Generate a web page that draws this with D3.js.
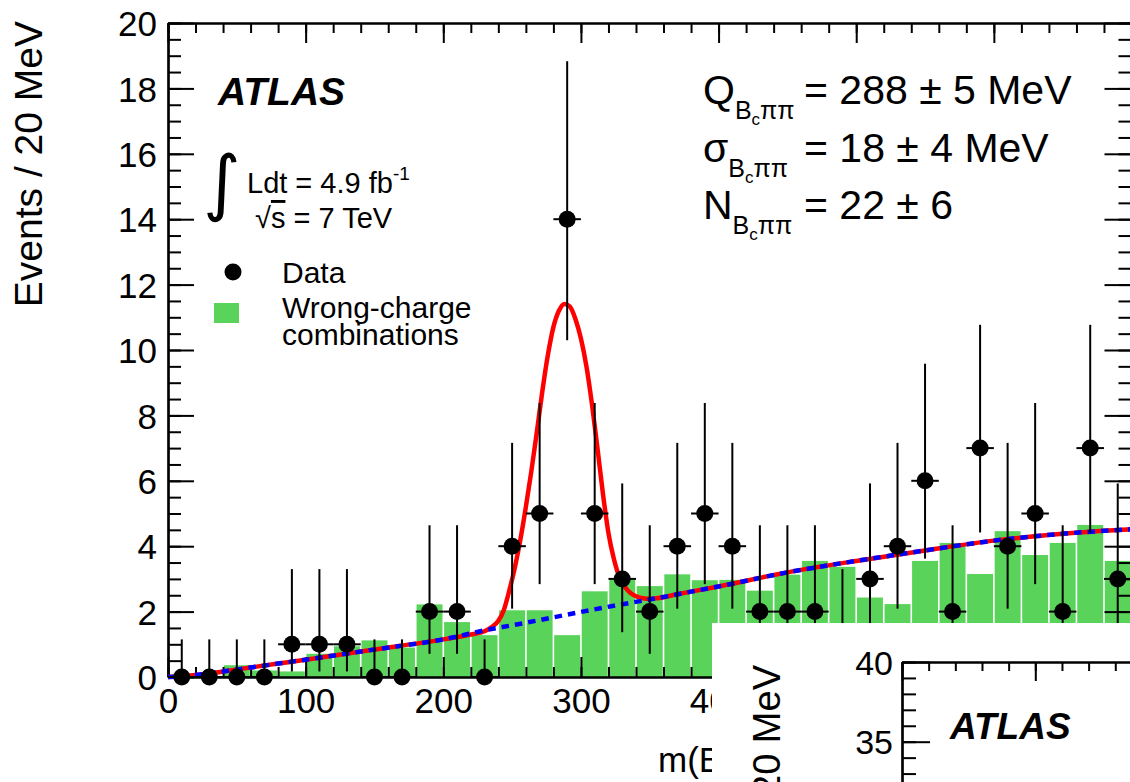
<!DOCTYPE html>
<html><head><meta charset="utf-8">
<script src="https://cdn.jsdelivr.net/npm/d3@7"></script>
<style>body{margin:0;background:#fff}svg{display:block}text{font-family:"Liberation Sans",Arial,Helvetica,sans-serif;fill:#000}</style>
</head><body>
<svg id="c" width="1130" height="782"></svg>
<script>
// ---------------- data ----------------
const binCenters = [10,30,50,70,90,110,130,150,170,190,210,230,250,270,290,310,330,350,370,390,410,430,450,470,490,510,530,550,570,590,610,630,650,670,690];
const binHalfWidth = 10;
const dataCounts = [0,0,0,0,1,1,1,0,0,2, 2,0,4,5,14,5,3,2,4,5, 4,2,2,2,1,3,4,6,2,7, 4,5,2,7,3];
const errLow  = [0,0,0,0,0.83,0.83,0.83,0,0,1.29, 1.29,0,1.91,2.16,3.7,2.16,1.63,1.29,1.91,2.16, 1.91,1.29,1.29,1.29,0.83,1.63,1.91,2.38,1.29,2.58, 1.91,2.16,1.29,2.58,1.63];
const errHigh = [1.15,1.15,1.15,1.15,2.3,2.3,2.3,1.15,1.15,2.64, 2.64,1.15,3.16,3.38,4.83,3.38,2.92,2.64,3.16,3.38, 3.16,2.64,2.64,2.64,2.3,2.92,3.16,3.58,2.64,3.77, 3.16,3.38,2.64,3.77,2.92];
const wrongCharge = [0,0,0.36,0.2,0.17,0.71,0.94,1.12,0.9,2.22, 1.68,1.28,2.04,2.04,1.28,2.62,2.98,2.78,3.14,2.96, 2.97,2.64,3.13,3.55,3.37,2.43,2.23,3.55,4.1,3.15, 4.46,3.73,4.1,4.65,3.55];

const bkgX = [0,10,20,40,60,80,100,150,200,234,250,270,300,343,350,380,400,450,500,550,600,650,700];
const bkgY = [0,0.02,0.06,0.17,0.29,0.41,0.53,0.84,1.15,1.46,1.58,1.74,1.99,2.32,2.37,2.61,2.77,3.2,3.55,3.87,4.17,4.38,4.52];

const fitX = [0,20,40,60,80,100,150,200,220,230,236,240,244,248,252,256,260,264,268,272,276,280,284,288,292,296,300,304,308,312,316,320,324,328,332,336,340,345,350,355,370,400,450,500,550,600,650,700];
const fitY = [0,0.06,0.17,0.29,0.41,0.53,0.84,1.15,1.3,1.4,1.55,1.72,2.05,2.65,3.35,4.2,5.2,6.3,7.5,8.75,9.85,10.7,11.2,11.41,11.33,10.95,10.35,9.5,8.35,7.0,5.6,4.4,3.6,3.05,2.75,2.57,2.47,2.41,2.39,2.41,2.53,2.77,3.2,3.55,3.87,4.17,4.38,4.52];

const xMajorTicks = [0,100,200,300,400,500,600,700];
const xMinorTicks = d3.range(0, 701, 20);
const yMajorTicks = [0,2,4,6,8,10,12,14,16,18,20];
const yMinorTicks = d3.range(0, 20.01, 0.5);

const paramSymbols = ["Q","σ","N"];
const paramValues = ["= 288 ± 5 MeV","= 18 ± 4 MeV","= 22 ± 6"];

const insetYMajor = [30,35,40];
const insetYMinor = d3.range(30, 40.01, 1);
const insetXMajor = [0,100,200];
const insetXMinor = d3.range(0, 201, 20);

// ---------------- scales ----------------
const svg = d3.select("#c");
const x = d3.scaleLinear().domain([0,700]).range([168,1131.5]);
const y = d3.scaleLinear().domain([0,20]).range([677,23]);
const green = "#5ad35a";

// wrong-charge histogram
svg.append("g").selectAll("rect").data(binCenters).join("rect")
  .attr("x", (d)=> x(d-binHalfWidth)+0.8)
  .attr("width", (d)=> x(d+binHalfWidth)-x(d-binHalfWidth)-1.6)
  .attr("y", (d,i)=> y(wrongCharge[i]))
  .attr("height", (d,i)=> y(0)-y(wrongCharge[i]))
  .attr("fill", green);

// axes
function styleAxis(g){ g.selectAll("path,line").attr("stroke","#000").attr("stroke-width",2); g.select(".domain").attr("stroke-width",2.2); }
const fmt = d3.format("d");
// bottom
svg.append("g").attr("transform",`translate(0,${y(0)})`)
  .call(d3.axisBottom(x).tickValues(xMinorTicks).tickSize(-10).tickSizeOuter(0).tickFormat(""))
  .call(styleAxis);
const bx = svg.append("g").attr("transform",`translate(0,${y(0)})`)
  .call(d3.axisBottom(x).tickValues(xMajorTicks).tickSize(-20).tickSizeOuter(0).tickFormat(fmt))
  .call(styleAxis);
bx.selectAll("text").attr("y",36).attr("dy",null).attr("font-size",35).attr("fill","#000").style("font-family","Liberation Sans, Arial, sans-serif");
// top
svg.append("g").attr("transform",`translate(0,${y(20)})`)
  .call(d3.axisTop(x).tickValues(xMinorTicks).tickSize(-10).tickSizeOuter(0).tickFormat(""))
  .call(styleAxis);
svg.append("g").attr("transform",`translate(0,${y(20)})`)
  .call(d3.axisTop(x).tickValues(xMajorTicks).tickSize(-20).tickSizeOuter(0).tickFormat(""))
  .call(styleAxis);
// left
svg.append("g").attr("transform",`translate(${x(0)},0)`)
  .call(d3.axisLeft(y).tickValues(yMinorTicks).tickSize(-13).tickSizeOuter(0).tickFormat(""))
  .call(styleAxis);
const ly = svg.append("g").attr("transform",`translate(${x(0)},0)`)
  .call(d3.axisLeft(y).tickValues(yMajorTicks).tickSize(-26).tickSizeOuter(0).tickPadding(11).tickFormat(fmt))
  .call(styleAxis);
ly.selectAll("text").attr("font-size",35).attr("dy","0.36em").attr("fill","#000").style("font-family","Liberation Sans, Arial, sans-serif");
// right
svg.append("g").attr("transform",`translate(${x(700)},0)`)
  .call(d3.axisRight(y).tickValues(yMinorTicks).tickSize(-13).tickSizeOuter(0).tickFormat(""))
  .call(styleAxis);
svg.append("g").attr("transform",`translate(${x(700)},0)`)
  .call(d3.axisRight(y).tickValues(yMajorTicks).tickSize(-27).tickSizeOuter(0).tickFormat(""))
  .call(styleAxis);

// fit curves
const fitLine = d3.line().x((d)=>x(d[0])).y((d)=>y(d[1])).curve(d3.curveMonotoneX);
svg.append("path").datum(fitX.map((v,i)=>[v,fitY[i]])).attr("d",fitLine)
  .attr("fill","none").attr("stroke","#ff0000").attr("stroke-width",4.5);
svg.append("path").datum(bkgX.map((v,i)=>[v,bkgY[i]])).attr("d",fitLine)
  .attr("fill","none").attr("stroke","#0000ff").attr("stroke-width",4.5).attr("stroke-dasharray","7.5,6");

// data points
const pts = svg.append("g");
binCenters.forEach((c,i)=>{
  const n = dataCounts[i];
  pts.append("line").attr("x1",x(c)).attr("x2",x(c)).attr("y1",y(n-errLow[i])).attr("y2",y(n+errHigh[i])).attr("stroke","#000").attr("stroke-width",2);
  pts.append("line").attr("x1",x(c-binHalfWidth)).attr("x2",x(c+binHalfWidth)).attr("y1",y(n)).attr("y2",y(n)).attr("stroke","#000").attr("stroke-width",2);
  pts.append("circle").attr("cx",x(c)).attr("cy",y(n)).attr("r",8.5).attr("fill","#000");
});

// axis titles
svg.append("text").attr("transform","translate(42,21) rotate(-90)").attr("text-anchor","end").attr("font-size",39).text("Events / 20 MeV");
const xt = svg.append("text").attr("x",658).attr("y",772).attr("font-size",35);
xt.append("tspan").text("m(B");
xt.append("tspan").attr("font-size",22).attr("dy",8).text("c");
xt.append("tspan").attr("dy",-8).text("ππ) − m(B");
xt.append("tspan").attr("font-size",22).attr("dy",8).text("c");
xt.append("tspan").attr("dy",-8).text(") [MeV]");

// ATLAS label and luminosity
svg.append("text").attr("x",218).attr("y",105).attr("font-size",39).attr("font-weight","bold").attr("font-style","italic").text("ATLAS");
svg.append("text").attr("x",203).attr("y",207).attr("font-size",72).style("font-family","DejaVu Sans").text("∫");
const lum = svg.append("text").attr("x",247).attr("y",193).attr("font-size",29);
lum.append("tspan").text("Ldt = 4.9 fb");
lum.append("tspan").attr("font-size",19).attr("dy",-13).text("-1");
const cm = svg.append("text").attr("x",255).attr("y",228).attr("font-size",29);
cm.append("tspan").text("√");
cm.append("tspan").style("text-decoration","overline").text("s");
cm.append("tspan").text(" = 7 TeV");

// legend
svg.append("circle").attr("cx",233).attr("cy",272).attr("r",8.5).attr("fill","#000");
svg.append("text").attr("x",282).attr("y",283).attr("font-size",30).text("Data");
svg.append("rect").attr("x",214).attr("y",303).attr("width",25).attr("height",20).attr("fill",green);
svg.append("text").attr("x",282).attr("y",318).attr("font-size",30).text("Wrong-charge");
svg.append("text").attr("x",282).attr("y",345).attr("font-size",30).text("combinations");

// fit parameters
const paramBaselines = [104,162,219];
paramSymbols.forEach((s,i)=>{
  const t = svg.append("text").attr("x",703).attr("y",paramBaselines[i]).attr("font-size",41);
  t.append("tspan").text(s);
  t.append("tspan").attr("font-size",25).attr("dy",15).text("B");
  t.append("tspan").attr("font-size",17).attr("dy",6).text("c");
  t.append("tspan").attr("font-size",25).attr("dy",-6).text("ππ");
  t.append("tspan").attr("x",804).attr("dy",-15).text(paramValues[i]);
});

// ---------------- inset (lower panel, partly visible) ----------------
const inset = svg.append("g");
inset.append("rect").attr("x",712).attr("y",623).attr("width",418).attr("height",159).attr("fill","#fff");
const ix = d3.scaleLinear().domain([0,200]).range([902,1168.6]);
const iy = d3.scaleLinear().domain([30,40]).range([821.4,662]);
inset.append("g").attr("transform",`translate(0,${iy(40)})`)
  .call(d3.axisTop(ix).tickValues(insetXMinor).tickSize(-9).tickSizeOuter(0).tickFormat("")).call(styleAxis);
inset.append("g").attr("transform",`translate(0,${iy(40)})`)
  .call(d3.axisTop(ix).tickValues(insetXMajor).tickSize(-19).tickSizeOuter(0).tickFormat("")).call(styleAxis);
inset.append("g").attr("transform",`translate(${ix(0)},0)`)
  .call(d3.axisLeft(iy).tickValues(insetYMinor).tickSize(-14).tickSizeOuter(0).tickFormat("")).call(styleAxis);
const iyl = inset.append("g").attr("transform",`translate(${ix(0)},0)`)
  .call(d3.axisLeft(iy).tickValues(insetYMajor).tickSize(-28).tickSizeOuter(0).tickPadding(9).tickFormat(fmt)).call(styleAxis);
iyl.selectAll("text").attr("font-size",34).attr("dy","0.36em").attr("fill","#000").style("font-family","Liberation Sans, Arial, sans-serif");
inset.append("text").attr("transform","translate(780,665) rotate(-90)").attr("text-anchor","end").attr("font-size",38).text("Events / 20 MeV");
inset.append("text").attr("x",950).attr("y",739).attr("font-size",37).attr("font-weight","bold").attr("font-style","italic").text("ATLAS");
</script>
</body></html>
